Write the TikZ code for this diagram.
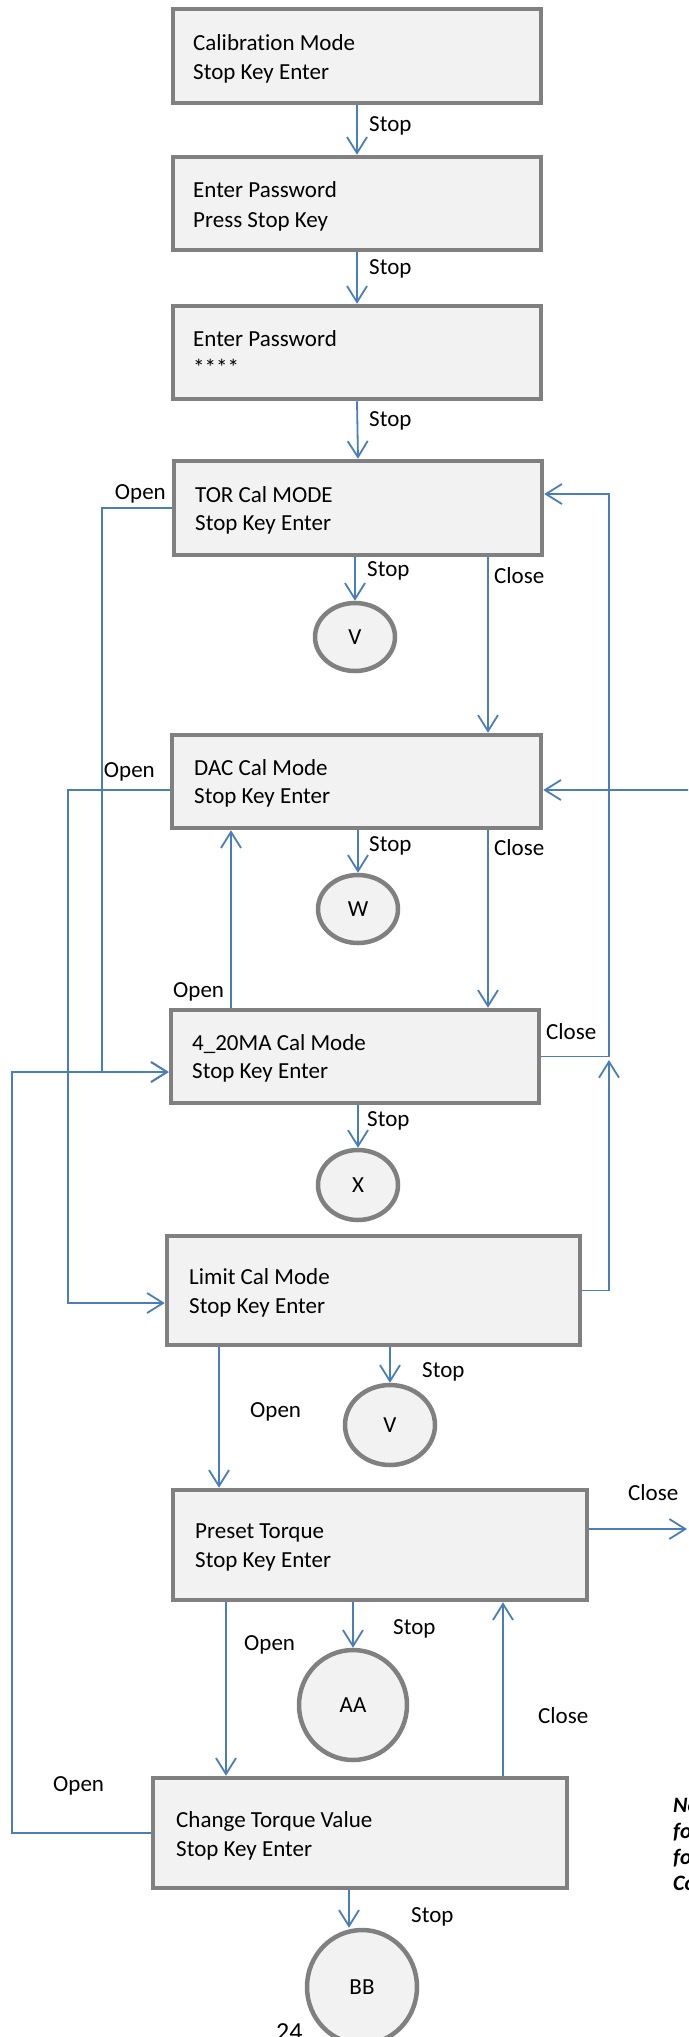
\documentclass[tikz,border=0pt]{standalone}
\usepackage{fontspec}
\setmainfont{Carlito}[Ligatures={NoCommon}]
\usetikzlibrary{arrows.meta,shapes.geometric}
\definecolor{conncol}{HTML}{4A7EBB}
\definecolor{boxfill}{HTML}{F2F2F2}
\definecolor{boxdraw}{HTML}{808080}
\begin{document}
\begin{tikzpicture}[x=1pt,y=-1pt,
  stepbox/.style={rectangle,draw=boxdraw,fill=boxfill,line width=4.5pt,inner sep=0pt},
  endcirc/.style={ellipse,draw=boxdraw,fill=boxfill,line width=4.5pt,inner sep=0pt,font=\fontsize{23}{29}\selectfont},
  txt/.style={anchor=base west,inner sep=0pt,font=\fontsize{23}{29}\selectfont},
  lbl/.style={anchor=base west,inner sep=0pt,font=\fontsize{23}{29}\selectfont},
  lblr/.style={anchor=base east,inner sep=0pt,font=\fontsize{23}{29}\selectfont},
  conn/.style={draw=conncol,line width=1.8pt,-{Straight Barb[length=16pt,width=20pt,line width=1.8pt]}},
  plain/.style={draw=conncol,line width=1.8pt}
]
\useasboundingbox (0,0) rectangle (688,2037);
\clip (0,0) rectangle (688,2037);

% boxes
\node[stepbox,minimum width=368pt,minimum height=94pt] (b1) at (357,56) {};
\node[stepbox,minimum width=368pt,minimum height=93pt] (b2) at (357,203.5) {};
\node[stepbox,minimum width=368pt,minimum height=93pt] (b3) at (357,352.5) {};
\node[stepbox,minimum width=368pt,minimum height=94pt] (b4) at (358,508) {};
\node[stepbox,minimum width=369pt,minimum height=93pt] (b5) at (356.5,781.5) {};
\node[stepbox,minimum width=368pt,minimum height=93pt] (b6) at (355,1056.5) {};
\node[stepbox,minimum width=413pt,minimum height=109pt] (b7) at (373.5,1290.5) {};
\node[stepbox,minimum width=414pt,minimum height=110pt] (b8) at (380,1545) {};
\node[stepbox,minimum width=414pt,minimum height=110pt] (b9) at (360,1833) {};

% box texts
\node[txt] (t1a) at (193,50) {Calibration Mode};
\node[txt] (t1b) at (193,79) {Stop Key Enter};
\node[txt] (t2a) at (193,197) {Enter Password};
\node[txt] (t2b) at (193,227) {Press Stop Key};
\node[txt] (t3a) at (193,346) {Enter Password};
\node[txt] (t3b) at (193,375) {****};
\node[txt] (t4a) at (195,502) {TOR Cal MODE};
\node[txt] (t4b) at (195,530) {Stop Key Enter};
\node[txt] (t5a) at (194,775) {DAC Cal Mode};
\node[txt] (t5b) at (194,803) {Stop Key Enter};
\node[txt] (t6a) at (192,1050) {4\_20MA Cal Mode};
\node[txt] (t6b) at (192,1078) {Stop Key Enter};
\node[txt] (t7a) at (189,1284) {Limit Cal Mode};
\node[txt] (t7b) at (189,1313) {Stop Key Enter};
\node[txt] (t8a) at (195,1538) {Preset Torque};
\node[txt] (t8b) at (195,1567) {Stop Key Enter};
\node[txt] (t9a) at (176,1827) {Change Torque Value};
\node[txt] (t9b) at (176,1856) {Stop Key Enter};

% end circles
\node[endcirc,minimum width=80pt,minimum height=68pt] (cv) at (355,637) {V};
\node[endcirc,minimum width=80pt,minimum height=68pt] (cw) at (358,909) {W};
\node[endcirc,minimum width=80pt,minimum height=70pt] (cx) at (358,1185) {X};
\node[endcirc,minimum width=90pt,minimum height=80pt] (cv2) at (390,1425) {V};
\node[endcirc,minimum width=108pt,minimum height=110pt] (caa) at (353,1705) {AA};
\node[endcirc,minimum width=110pt,minimum height=114pt] (cbb) at (362,1987) {BB};

% helper coordinates
\coordinate (cA) at (102,1072);
\coordinate (cB) at (68,1303);
\coordinate (cC) at (12,1072);
\coordinate (rB) at (0,790);
\coordinate (eR) at (690,790);
\coordinate (jR) at (609,494);
\coordinate (jL) at (609,1060);
\coordinate (xCl) at (488,0);
\coordinate (xUp) at (231,0);
\coordinate (x7) at (219,0);
\coordinate (x8) at (226,0);
\coordinate (x9) at (503,0);
\coordinate (xs9) at (349,0);
\coordinate (e8) at (687,1529);

% straight stop connectors
\draw[conn] (b1.south) -- (b2.north);
\draw[conn] (b2.south) -- (b3.north);
\draw[conn] (b3.south) -- (b4.north);
\draw[conn] (b4.south -| cv) -- (cv.north);
\draw[conn] (b5.south -| cw) -- (cw.north);
\draw[conn] (b6.south -| cx) -- (cx.north);
\draw[conn] (b7.south -| cv2) -- (cv2.north);
\draw[conn] (b8.south -| caa) -- (caa.north);
\draw[conn] (b9.south -| xs9) -- (cbb.north -| xs9);

% close connectors
\draw[conn] (b4.south -| xCl) -- (b5.north -| xCl);
\draw[conn] (b5.south -| xCl) -- (b6.north -| xCl);
\draw[conn] (b6.east) -| (jR) -- (jR -| b4.east);
\draw[conn] (b7.east) -| (jL);
\draw[conn] (eR) -- (b5.east |- rB);
\draw[conn] (b8.east |- e8) -- (e8);
\draw[conn] (b9.north -| x9) -- (b8.south -| x9);

% open connectors
\draw[conn] (b4.west) -| (cA) -- (cA -| b6.west);
\draw[conn] (b5.west |- rB) -| (cB) -- (cB -| b7.west);
\draw[conn] (b9.west) -| (cC) -- (cC -| b6.west);
\draw[conn] (b6.north -| xUp) -- (b5.south -| xUp);
\draw[conn] (b7.south -| x7) -- (b8.north -| x7);
\draw[conn] (b8.south -| x8) -- (b9.north -| x8);

% labels
\node[lbl] (ls1) at (369,131) {Stop};
\node[lbl] (ls2) at (369,274) {Stop};
\node[lbl] (ls3) at (369,426) {Stop};
\node[lbl] (ls4) at (367,576) {Stop};
\node[lbl] (ls5) at (369,851) {Stop};
\node[lbl] (ls6) at (367,1126) {Stop};
\node[lbl] (ls7) at (422,1377) {Stop};
\node[lbl] (ls8) at (393,1634) {Stop};
\node[lbl] (ls9) at (411,1922) {Stop};
\node[lbl] (lc4) at (494,583) {Close};
\node[lbl] (lc5) at (494,855) {Close};
\node[lbl] (lc6) at (546,1039) {Close};
\node[lbl] (lc8) at (628,1500) {Close};
\node[lbl] (lc9) at (538,1723) {Close};
\node[lblr] (lo4) at (166,499) {Open};
\node[lblr] (lo5) at (155,777) {Open};
\node[lbl] (lo6) at (173,997) {Open};
\node[lbl] (lo7) at (250,1417) {Open};
\node[lbl] (lo8) at (244,1650) {Open};
\node[lbl] (lo9) at (53,1791) {Open};

% page number and cut note
\node[anchor=base west,inner sep=0pt,font=\fontsize{26}{30}\selectfont] (pg) at (276,2040) {24};
\node[anchor=base west,inner sep=0pt,font=\fontsize{22}{26}\selectfont\bfseries\itshape] (n1) at (673,1812) {No};
\node[anchor=base west,inner sep=0pt,font=\fontsize{22}{26}\selectfont\bfseries\itshape] (n2) at (673,1838) {fo};
\node[anchor=base west,inner sep=0pt,font=\fontsize{22}{26}\selectfont\bfseries\itshape] (n3) at (673,1864) {fo};
\node[anchor=base west,inner sep=0pt,font=\fontsize{22}{26}\selectfont\bfseries\itshape] (n4) at (673,1890) {Co};
\end{tikzpicture}
\end{document}
